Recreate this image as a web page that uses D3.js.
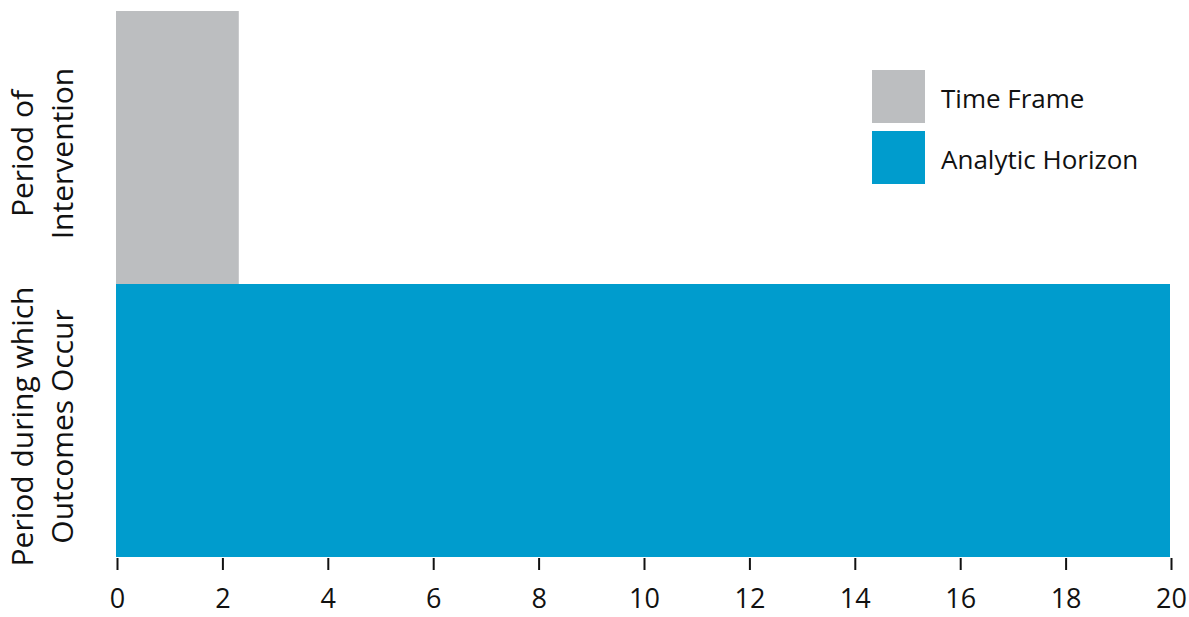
<!DOCTYPE html>
<html>
<head>
<meta charset="utf-8">
<script src="https://cdn.jsdelivr.net/npm/d3@7"></script>
<style>
  body { margin: 0; background: #fff; }
  text { font-family: "Open Sans", sans-serif; fill: #111; }
</style>
</head>
<body>
<script>
// chart data
const categories = ["Period of Intervention", "Period during which Outcomes Occur"];
const categoryLines = [["Period of", "Intervention"], ["Period during which", "Outcomes Occur"]];
const seriesNames = ["Time Frame", "Analytic Horizon"];
const seriesColors = ["#bcbec0", "#009ccd"];
const barStart = [0, 0];
const barEnd = [2.33, 20];
const xTicks = [0, 2, 4, 6, 8, 10, 12, 14, 16, 18, 20];

const w = 1189;
const h = 617;

const svg = d3.select("body")
  .append("svg")
  .attr("width", w)
  .attr("height", h);

// scales
const xScale = d3.scaleLinear()
  .domain([0, 20])
  .range([116, 1170]);

const yScale = d3.scaleBand()
  .domain(categories)
  .range([11, 557])
  .paddingInner(0)
  .paddingOuter(0);

// bars
svg.selectAll("rect.bar")
  .data(categories)
  .enter()
  .append("rect")
  .attr("class", "bar")
  .attr("x", (d, i) => xScale(barStart[i]))
  .attr("y", d => yScale(d))
  .attr("width", (d, i) => xScale(barEnd[i]) - xScale(barStart[i]))
  .attr("height", yScale.bandwidth())
  .attr("fill", (d, i) => seriesColors[i]);

// x axis (ticks only, no domain line)
const xAxis = d3.axisBottom(xScale)
  .tickValues(xTicks)
  .tickSize(12)
  .tickPadding(19)
  .tickFormat(d3.format("d"));

const gx = svg.append("g")
  .attr("transform", "translate(1, 558)")
  .call(xAxis);
gx.select(".domain").remove();
gx.selectAll(".tick line").attr("stroke", "#111").attr("stroke-width", 2);
gx.selectAll(".tick text")
  .style("font-size", "27px")
  .style("font-family", "'Open Sans', sans-serif")
  .attr("fill", "#111");

// category labels, rotated, two lines each
const labels = svg.selectAll("g.cat")
  .data(categories)
  .enter()
  .append("g")
  .attr("class", "cat")
  .attr("transform", d => `translate(43, ${yScale(d) + yScale.bandwidth() / 2 + 6}) rotate(-90)`);

labels.each(function(d, i) {
  const g = d3.select(this);
  categoryLines[i].forEach((line, j) => {
    g.append("text")
      .attr("x", 0)
      .attr("y", j * 40 - 10)
      .attr("text-anchor", "middle")
      .style("font-size", "30px")
      .text(line);
  });
});

// legend
const legend = svg.selectAll("g.legend")
  .data(seriesNames)
  .enter()
  .append("g")
  .attr("class", "legend")
  .attr("transform", (d, i) => `translate(872, ${70 + i * 61})`);

legend.append("rect")
  .attr("width", 53)
  .attr("height", 53)
  .attr("fill", (d, i) => seriesColors[i]);

legend.append("text")
  .attr("x", 69)
  .attr("y", 38)
  .style("font-size", "26px")
  .text(d => d);
</script>
</body>
</html>
